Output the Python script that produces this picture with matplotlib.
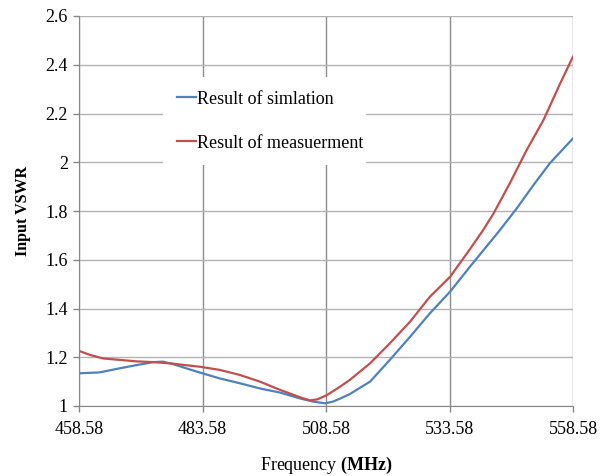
import numpy as np
import matplotlib
matplotlib.use('Agg')
import matplotlib.pyplot as plt

plt.rcParams['font.family'] = 'Liberation Serif'
plt.rcParams['mathtext.fontset'] = 'custom'
plt.rcParams['mathtext.rm'] = 'Liberation Serif'
plt.rcParams['mathtext.bf'] = 'Liberation Serif:bold'

# simulation curve (MHz, VSWR)
f_sim = [458.58, 462.8, 466.9, 470.3, 473.6, 475.6, 477.6, 481.0, 483.1, 487.1,
         491.2, 495.2, 499.3, 503.3, 506.0, 508.4, 510.0, 511.4, 513.4, 517.5,
         521.5, 525.6, 529.6, 533.7, 537.7, 543.8, 547.2, 550.6, 553.9, 558.58]
v_sim = [1.134, 1.138, 1.155, 1.168, 1.180, 1.182, 1.172, 1.150, 1.137, 1.113,
         1.093, 1.072, 1.055, 1.031, 1.018, 1.011, 1.018, 1.030, 1.049, 1.100,
         1.189, 1.284, 1.380, 1.469, 1.571, 1.722, 1.811, 1.907, 1.996, 2.098]

# measured curve
f_meas = [458.58, 460.9, 463.5, 466.9, 470.3, 473.6, 477.0, 480.4, 483.1, 487.1,
          491.2, 495.2, 499.3, 503.3, 505.3, 506.8, 508.8, 511.4, 513.4, 517.5,
          521.5, 525.6, 529.6, 533.7, 537.7, 540.4, 542.5, 545.8, 549.2, 552.6,
          556.0, 558.58]
v_meas = [1.226, 1.209, 1.195, 1.189, 1.183, 1.180, 1.175, 1.167, 1.161, 1.148,
          1.127, 1.100, 1.066, 1.036, 1.023, 1.027, 1.045, 1.079, 1.107, 1.175,
          1.257, 1.346, 1.448, 1.530, 1.643, 1.722, 1.790, 1.914, 2.050, 2.173,
          2.324, 2.433]

x_ticks = [458.58, 483.58, 508.58, 533.58, 558.58]
y_ticks = [1, 1.2, 1.4, 1.6, 1.8, 2, 2.2, 2.4, 2.6]

fig = plt.figure(figsize=(6.08, 4.76), dpi=100)
ax = fig.add_axes([79/608, 70/476, 494/608, 390/476])

ax.plot(f_sim, v_sim, color='#4F81BD', lw=1.6, label='Result of simlation')
ax.plot(f_meas, v_meas, color='#C0504D', lw=1.6, label='Result of measuerment')

ax.set_xlim(458.58, 558.58)
ax.set_ylim(1, 2.6)
ax.set_xticks(x_ticks)
ax.set_xticklabels(['%.2f' % t for t in x_ticks])
ax.set_yticks(y_ticks)
ax.set_yticklabels(['%g' % t for t in y_ticks])
ax.tick_params(labelsize=13, color='#868686', length=4, width=1)
ax.tick_params(axis='x', pad=7)
ax.tick_params(axis='y', pad=4)

for t in x_ticks:
    ax.axvline(t, color='#8c8c8c', lw=1, zorder=0.5)
for t in y_ticks:
    ax.axhline(t, color='#b3b3b3', lw=1, zorder=0.5)

for s in ['top', 'right']:
    ax.spines[s].set_visible(False)
for s in ['left', 'bottom']:
    ax.spines[s].set_color('#868686')

ax.set_ylabel('Input VSWR', fontsize=11.5, fontweight='bold', labelpad=10)
ax.set_xlabel(r'Frequency $\mathbf{(MHz)}$', fontsize=13, labelpad=12)

leg = ax.legend(loc='upper left', bbox_to_anchor=(163/608, 1-165/476, 203/608, 88/476),
                bbox_transform=fig.transFigure, mode='expand',
                fontsize=13, frameon=True, fancybox=False, handlelength=1.1,
                handletextpad=0.05, labelspacing=1.5, borderpad=0.75, borderaxespad=0)
leg.get_frame().set_edgecolor('none')
leg.get_frame().set_facecolor('white')
leg.get_frame().set_alpha(1)

fig.savefig('out.png', dpi=100)
